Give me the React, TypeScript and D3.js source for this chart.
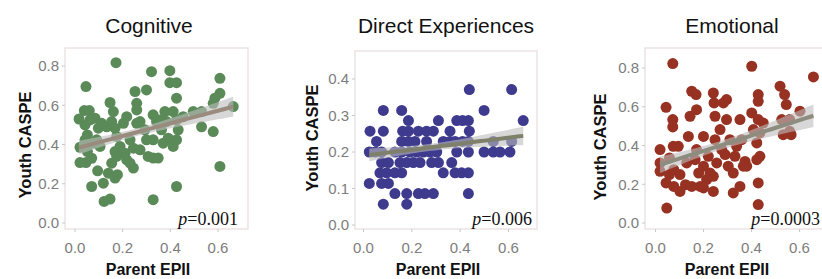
import React from "react";
import * as d3 from "d3";

// panel titles and point colours
const titles = ["Cognitive", "Direct Experiences", "Emotional"];
const pointColors = ["#5b8a59", "#3e3a8e", "#973223"];
const lineColors = ["#9a8b7f", "#7f806c", "#8c8d7e"];
const pLabels = ["0.001", "0.006", "0.0003"];

// fitted lines: [intercept, slope]
const fits = [
  [0.379, 0.322],
  [0.19, 0.082],
  [0.293, 0.396],
];

const xTicks = [0, 0.2, 0.4, 0.6];
const yTicks1 = [0, 0.2, 0.4, 0.6, 0.8];
const yTicks2 = [0, 0.1, 0.2, 0.3, 0.4];

// Cognitive: [Parent EPII, Youth CASPE]
const cognitive = [
  [0.017, 0.53], [0.046, 0.695], [0.039, 0.573], [0.06, 0.573], [0.042, 0.5],
  [0.052, 0.449], [0.042, 0.424], [0.021, 0.386], [0.052, 0.364], [0.021, 0.308],
  [0.046, 0.308], [0.07, 0.33], [0.095, 0.266], [0.07, 0.186], [0.084, 0.534],
  [0.098, 0.483], [0.091, 0.424], [0.105, 0.39], [0.119, 0.203], [0.122, 0.11],
  [0.147, 0.122], [0.133, 0.49], [0.147, 0.614], [0.161, 0.568], [0.154, 0.517],
  [0.168, 0.483], [0.175, 0.441], [0.154, 0.305], [0.14, 0.254], [0.172, 0.817],
  [0.168, 0.364], [0.175, 0.339], [0.189, 0.39], [0.178, 0.246], [0.168, 0.229],
  [0.21, 0.356], [0.217, 0.322], [0.231, 0.305], [0.245, 0.28], [0.252, 0.67],
  [0.259, 0.61], [0.259, 0.576], [0.273, 0.517], [0.273, 0.373], [0.245, 0.381],
  [0.3, 0.678], [0.293, 0.475], [0.307, 0.339], [0.321, 0.771], [0.328, 0.424],
  [0.328, 0.331], [0.328, 0.551], [0.328, 0.119], [0.342, 0.517], [0.349, 0.331],
  [0.363, 0.475], [0.377, 0.568], [0.384, 0.517], [0.391, 0.432], [0.398, 0.776],
  [0.398, 0.715], [0.426, 0.715], [0.426, 0.636], [0.412, 0.568], [0.426, 0.525],
  [0.433, 0.475], [0.412, 0.39], [0.426, 0.424], [0.426, 0.186], [0.531, 0.568],
  [0.531, 0.49], [0.58, 0.466], [0.587, 0.636], [0.608, 0.661], [0.608, 0.737],
  [0.608, 0.288], [0.664, 0.593], [0.063, 0.525], [0.077, 0.407], [0.112, 0.508],
  [0.203, 0.508], [0.217, 0.542], [0.231, 0.424], [0.259, 0.508], [0.3, 0.424],
  [0.356, 0.525], [0.37, 0.407], [0.454, 0.542], [0.496, 0.568], [0.58, 0.61],
];

// Direct Experiences: [Parent EPII, Youth CASPE]
const direct = [
  [0.438, 0.371], [0.613, 0.371],
  [0.082, 0.314], [0.158, 0.314], [0.499, 0.314],
  [0.186, 0.286], [0.31, 0.286], [0.386, 0.286], [0.41, 0.286], [0.434, 0.286], [0.661, 0.286],
  [0.027, 0.257], [0.082, 0.257], [0.162, 0.257], [0.186, 0.257], [0.227, 0.257],
  [0.261, 0.257], [0.289, 0.257], [0.358, 0.257], [0.438, 0.257],
  [0.054, 0.229], [0.158, 0.229], [0.186, 0.229], [0.213, 0.229], [0.261, 0.229],
  [0.33, 0.229], [0.358, 0.229], [0.379, 0.229], [0.41, 0.229], [0.434, 0.229],
  [0.537, 0.229], [0.613, 0.229],
  [0.024, 0.2], [0.048, 0.2], [0.075, 0.2], [0.13, 0.2], [0.158, 0.2], [0.192, 0.2],
  [0.22, 0.2], [0.248, 0.2], [0.275, 0.2], [0.303, 0.2], [0.386, 0.2], [0.434, 0.2],
  [0.499, 0.2], [0.537, 0.2], [0.565, 0.2], [0.606, 0.2],
  [0.075, 0.171], [0.103, 0.171], [0.151, 0.171], [0.179, 0.171], [0.206, 0.171],
  [0.234, 0.171], [0.282, 0.171], [0.31, 0.171], [0.365, 0.171],
  [0.068, 0.143], [0.096, 0.143], [0.13, 0.143], [0.158, 0.143], [0.33, 0.143],
  [0.379, 0.143], [0.406, 0.143], [0.434, 0.143],
  [0.024, 0.114], [0.075, 0.114], [0.103, 0.114],
  [0.13, 0.086], [0.179, 0.086], [0.227, 0.086], [0.254, 0.086], [0.289, 0.086], [0.434, 0.086],
  [0.082, 0.057], [0.179, 0.057],
];

// Emotional: [Parent EPII, Youth CASPE]
const emotional = [
  [0.072, 0.823], [0.044, 0.597], [0.072, 0.534], [0.072, 0.496], [0.019, 0.379],
  [0.019, 0.31], [0.019, 0.267], [0.044, 0.207], [0.047, 0.077], [0.058, 0.336],
  [0.058, 0.25], [0.074, 0.396], [0.095, 0.396], [0.076, 0.275], [0.076, 0.189],
  [0.102, 0.25], [0.102, 0.163], [0.125, 0.198], [0.13, 0.31], [0.137, 0.447],
  [0.144, 0.551], [0.151, 0.68], [0.169, 0.663], [0.171, 0.585], [0.151, 0.189],
  [0.165, 0.327], [0.171, 0.379], [0.18, 0.258], [0.186, 0.189], [0.2, 0.447],
  [0.2, 0.293], [0.2, 0.181], [0.213, 0.224], [0.22, 0.344], [0.227, 0.258],
  [0.241, 0.241], [0.241, 0.671], [0.244, 0.62], [0.248, 0.551], [0.248, 0.43],
  [0.241, 0.163], [0.255, 0.31], [0.269, 0.482], [0.276, 0.379], [0.283, 0.62],
  [0.29, 0.353], [0.296, 0.637], [0.296, 0.534], [0.303, 0.293], [0.31, 0.43],
  [0.324, 0.258], [0.324, 0.155], [0.331, 0.344], [0.338, 0.396], [0.352, 0.534],
  [0.352, 0.189], [0.359, 0.43], [0.366, 0.293], [0.373, 0.318], [0.38, 0.293],
  [0.401, 0.809], [0.401, 0.568], [0.408, 0.482], [0.422, 0.413], [0.422, 0.327],
  [0.428, 0.663], [0.428, 0.628], [0.428, 0.534], [0.435, 0.465], [0.428, 0.207],
  [0.428, 0.095], [0.435, 0.344], [0.449, 0.516], [0.519, 0.706], [0.526, 0.534],
  [0.532, 0.456], [0.538, 0.663], [0.545, 0.611], [0.559, 0.534], [0.559, 0.473],
  [0.565, 0.456], [0.602, 0.577], [0.658, 0.754],
];

const datasets = [cognitive, direct, emotional];

// pixel layout of each panel
const layout = [
  { frame: [65, 248, 48, 229], x: [75, 218], yDom: [0, 0.8], y: [223, 66], yTicks: yTicks1,
    title: [149, 33], xLab: [148, 275], yLab: [31, 145], p: [238, 225] },
  { frame: [355, 537, 51, 229], x: [363.5, 508.5], yDom: [0, 0.4], y: [225, 79], yTicks: yTicks2,
    title: [446, 33], xLab: [438, 275], yLab: [318, 138], p: [532, 225] },
  { frame: [645, 830, 48, 229], x: [655.5, 799.5], yDom: [0, 0.8], y: [223, 68], yTicks: yTicks1,
    title: [732, 33], xLab: [727, 275], yLab: [606, 147], p: [820, 225] },
];

const sans = "'Liberation Sans', Arial, Helvetica, sans-serif";
const serif = "'Liberation Serif', 'Times New Roman', serif";

function Panel({ i }: { i: number }) {
  const L = layout[i];
  const data = datasets[i];
  const [a, b] = fits[i];
  const [fl, fr, ft, fb] = L.frame;
  const xs = d3.scaleLinear().domain([0, 0.6]).range(L.x);
  const ys = d3.scaleLinear().domain(L.yDom).range(L.y);

  // confidence band from the residual spread around the line
  const n = data.length;
  const xm = d3.mean(data, (d) => d[0]) as number;
  const sxx = d3.sum(data, (d) => (d[0] - xm) ** 2);
  const s = Math.sqrt(d3.sum(data, (d) => (d[1] - (a + b * d[0])) ** 2) / (n - 2));
  const [x0, x1] = d3.extent(data, (d) => d[0]) as [number, number];
  const grid = d3.range(0, 41).map((k) => x0 + ((x1 - x0) * k) / 40);
  const hw = (x: number) => 1.25 * s * Math.sqrt(1 / n + (x - xm) ** 2 / sxx);
  const band = d3
    .area<number>()
    .x((x) => xs(x))
    .y0((x) => ys(a + b * x - hw(x)))
    .y1((x) => ys(a + b * x + hw(x)));
  const line = d3
    .line<number>()
    .x((x) => xs(x))
    .y((x) => ys(a + b * x));

  return (
    <g>
      <text x={L.title[0]} y={L.title[1]} textAnchor="middle" fontFamily={sans} fontSize={21} fill="#111">
        {titles[i]}
      </text>
      <rect x={fl} y={ft} width={fr - fl} height={fb - ft} fill="#fff" stroke="#e6dcdc" strokeWidth={1.2} />
      {L.yTicks.map((t) => (
        <g key={"y" + t}>
          <line x1={fl - 3} x2={fl} y1={ys(t)} y2={ys(t)} stroke="#c8c8c8" />
          <text x={fl - 6} y={ys(t) + 5.3} textAnchor="end" fontFamily={sans} fontSize={15} fill="#7d7d7d">
            {t.toFixed(1)}
          </text>
        </g>
      ))}
      {xTicks.map((t) => (
        <g key={"x" + t}>
          <line x1={xs(t)} x2={xs(t)} y1={fb} y2={fb + 3} stroke="#c8c8c8" />
          <text x={xs(t)} y={252.5} textAnchor="middle" fontFamily={sans} fontSize={15} fill="#7d7d7d">
            {t.toFixed(1)}
          </text>
        </g>
      ))}
      {data.map((d, k) => (
        <circle key={k} cx={xs(d[0])} cy={ys(d[1])} r={5.5} fill={pointColors[i]} />
      ))}
      <path d={band(grid) || ""} fill="#bdbdbd" fillOpacity={0.6} />
      <path d={line(grid) || ""} fill="none" stroke={lineColors[i]} strokeWidth={4} />
      <text x={L.p[0]} y={L.p[1]} textAnchor="end" fontFamily={serif} fontSize={18} fill="#111">
        <tspan fontStyle="italic">p</tspan>={pLabels[i]}
      </text>
      <text x={L.xLab[0]} y={L.xLab[1]} textAnchor="middle" fontFamily={sans} fontSize={16} fontWeight="bold" fill="#111">
        Parent EPII
      </text>
      <text
        transform={`translate(${L.yLab[0]},${L.yLab[1]}) rotate(-90)`}
        textAnchor="middle"
        fontFamily={sans}
        fontSize={16.5}
        fontWeight="bold"
        fill="#111"
      >
        Youth CASPE
      </text>
    </g>
  );
}

export default function App() {
  return (
    <svg
      width={822}
      height={279}
      style={{ position: "absolute", left: 0, top: 0, background: "#fff" }}
    >
      {titles.map((_, i) => (
        <Panel key={i} i={i} />
      ))}
    </svg>
  );
}
